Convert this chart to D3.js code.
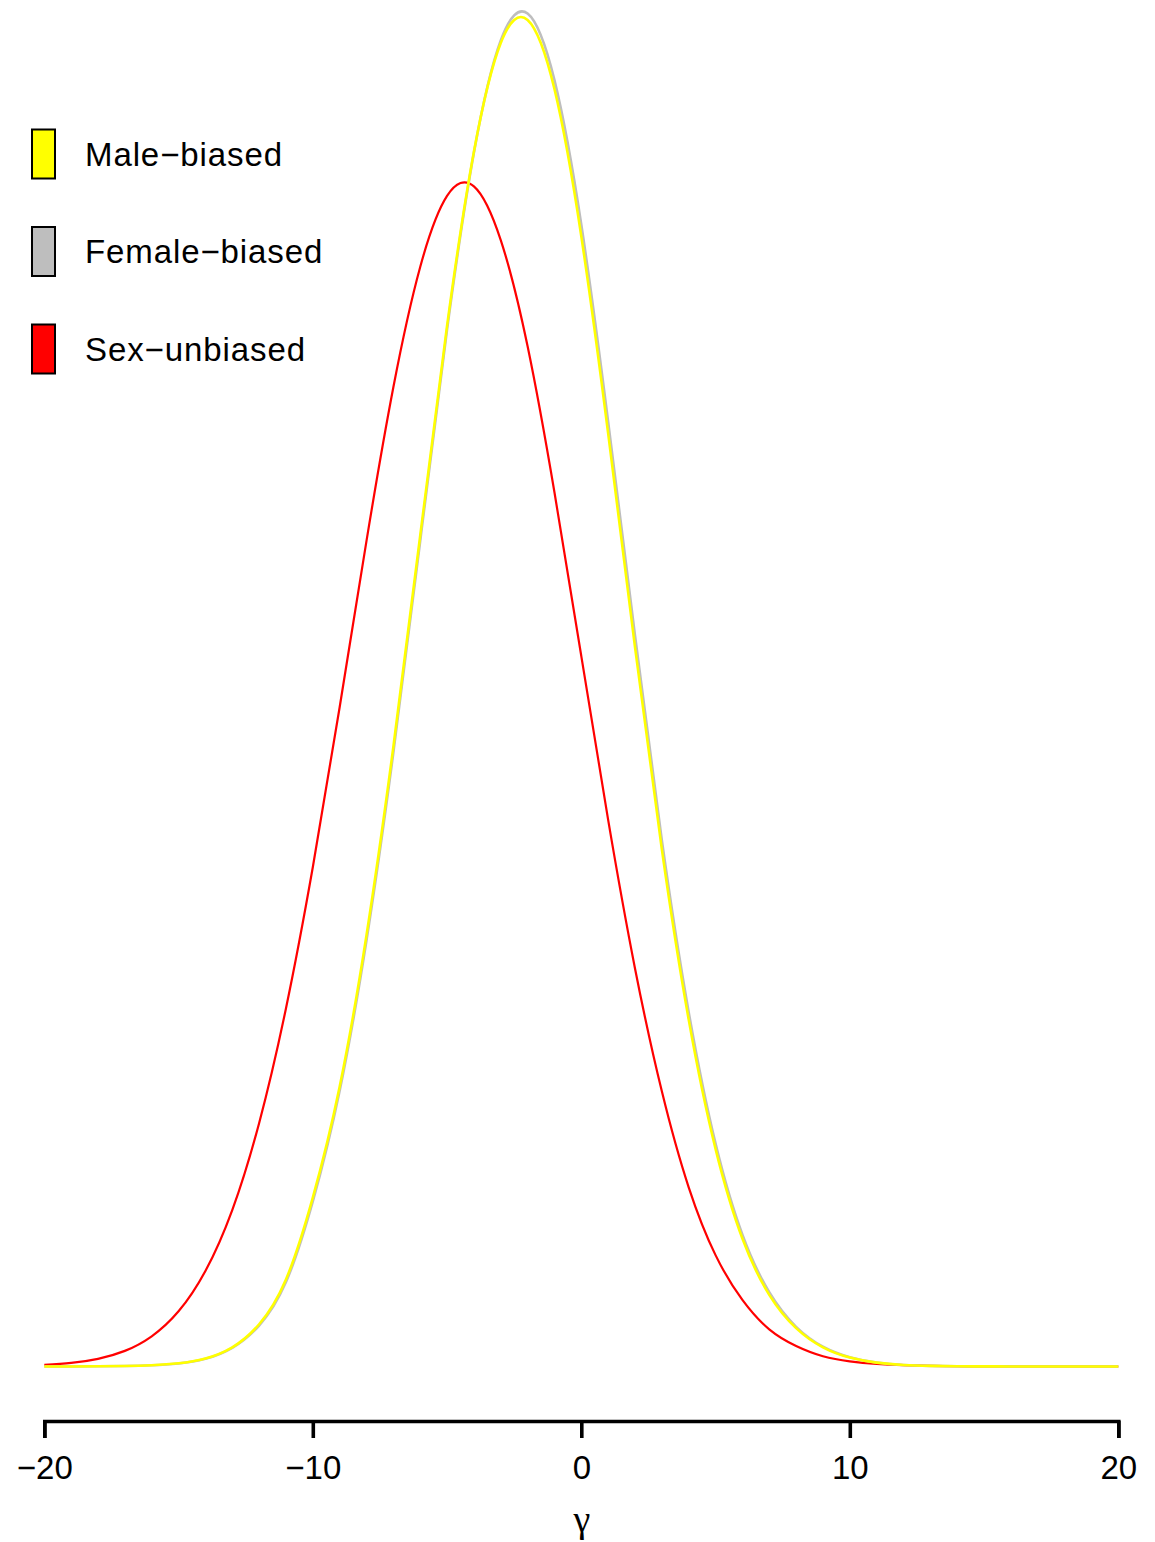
<!DOCTYPE html>
<html>
<head>
<meta charset="utf-8">
<script src="https://cdn.jsdelivr.net/npm/d3@7"></script>
<style>
  html, body { margin: 0; padding: 0; background: #ffffff; }
  svg { display: block; }
  text { font-family: "Liberation Sans", Arial, Helvetica, sans-serif; fill: #000; }
</style>
</head>
<body>
<svg id="chart" width="1155" height="1542"></svg>
<script>
// Density estimates of gamma for the three gene classes, on a common grid
const gammaGrid = [-20,-19,-18,-17,-16,-15,-14,-13,-12,-11,-10,-9,-8,-7,-6,-5,-4,-3,-2,-1,0,1,2,3,4,5,6,7,8,9,10,11,12,13,14,15,16,17,18,19,20];

const unbiasedDensity = [0.00012,0.00028,0.0006,0.00122,0.00236,0.00431,0.00746,0.01222,0.01901,0.02797,0.0390,0.0515,0.0645,0.0765,0.0859,0.09145,0.0922,0.0880,0.0797,0.0683,0.0555,0.0427,0.0311,0.0215,0.0140,0.0087,0.0052,0.0029,0.0016,0.0008,0.0004,0.0002,0.0001,0.00005,0.00002,0.00001,0,0,0,0,0];

const femaleDensity = [0,0.000005,0.000015,0.00004,0.0001,0.00024,0.0006,0.00146,0.0032,0.0066,0.0129,0.02154,0.0333,0.04796,0.06449,0.0810,0.09482,0.1036,0.1057,0.1005,0.0892,0.0738,0.0571,0.0411,0.02768,0.01741,0.0103,0.0058,0.0031,0.00155,0.00073,0.00031,0.00012,0.00005,0.00002,0.00001,0,0,0,0,0];

const maleDensity = [0,0.000005,0.000015,0.00004,0.0001,0.00025,0.00063,0.0015,0.0033,0.0068,0.0132,0.02186,0.0337,0.0484,0.0649,0.0813,0.0949,0.1034,0.1052,0.0998,0.0883,0.0729,0.0562,0.0404,0.0271,0.0170,0.0100,0.0056,0.0030,0.0015,0.0007,0.0003,0.00012,0.00005,0.00002,0.00001,0,0,0,0,0];

const xTicks = [-20, -10, 0, 10, 20];
const legendLabels = ["Male\u2212biased", "Female\u2212biased", "Sex\u2212unbiased"];
const legendColors = ["#FFFF00", "#BEBEBE", "#FF0000"];

const svg = d3.select("#chart");
svg.append("rect").attr("width", 1155).attr("height", 1542).attr("fill", "#fff");

const x = d3.scaleLinear().domain([-20, 20]).range([44.3, 1118.3]);
const y = d3.scaleLinear().domain([0, 0.1]).range([1366.5, 86.5]);

const line = d3.line()
  .x(d => x(d[0]))
  .y(d => y(d[1]))
  .curve(d3.curveNatural);

// draw order: unbiased, female, male on top
const series = [
  { v: unbiasedDensity, color: "#FF0000", w: 2.2 },
  { v: femaleDensity, color: "#BEBEBE", w: 2.6 },
  { v: maleDensity, color: "#FFFF00", w: 2.6 }
];

series.forEach(s => {
  svg.append("path")
    .datum(d3.zip(gammaGrid, s.v))
    .attr("fill", "none")
    .attr("stroke", s.color)
    .attr("stroke-width", s.w)
    .attr("stroke-linejoin", "round")
    .attr("d", line);
});

// x axis with outer end ticks
const axis = d3.axisBottom(x)
  .tickValues(xTicks)
  .tickSize(17)
  .tickSizeOuter(17)
  .tickPadding(18)
  .tickFormat(d3.format("d"));

const ax = svg.append("g")
  .attr("transform", "translate(0,1421)")
  .call(axis);
ax.select(".domain").attr("stroke", "#000").attr("stroke-width", 3.6);
ax.selectAll(".tick line").attr("stroke", "#000").attr("stroke-width", 3.6);
ax.selectAll(".tick text")
  .attr("font-family", "'Liberation Sans', Arial, sans-serif")
  .attr("font-size", 33)
  .attr("fill", "#000");

// axis title
svg.append("text")
  .attr("x", 582)
  .attr("y", 1532)
  .attr("text-anchor", "middle")
  .style("font-family", "'Liberation Serif', 'DejaVu Serif', serif")
  .attr("font-size", 38)
  .text("\u03B3");

// legend
const legend = svg.append("g");
legendLabels.forEach((label, i) => {
  const cy = 154 + i * 97.5;
  legend.append("rect")
    .attr("x", 32)
    .attr("y", cy - 24.5)
    .attr("width", 23)
    .attr("height", 49)
    .attr("fill", legendColors[i])
    .attr("stroke", "#000")
    .attr("stroke-width", 2);
  legend.append("text")
    .attr("x", 85)
    .attr("y", cy + 11.8)
    .attr("font-size", 33)
    .attr("letter-spacing", "0.9px")
    .text(label);
});
</script>
</body>
</html>
